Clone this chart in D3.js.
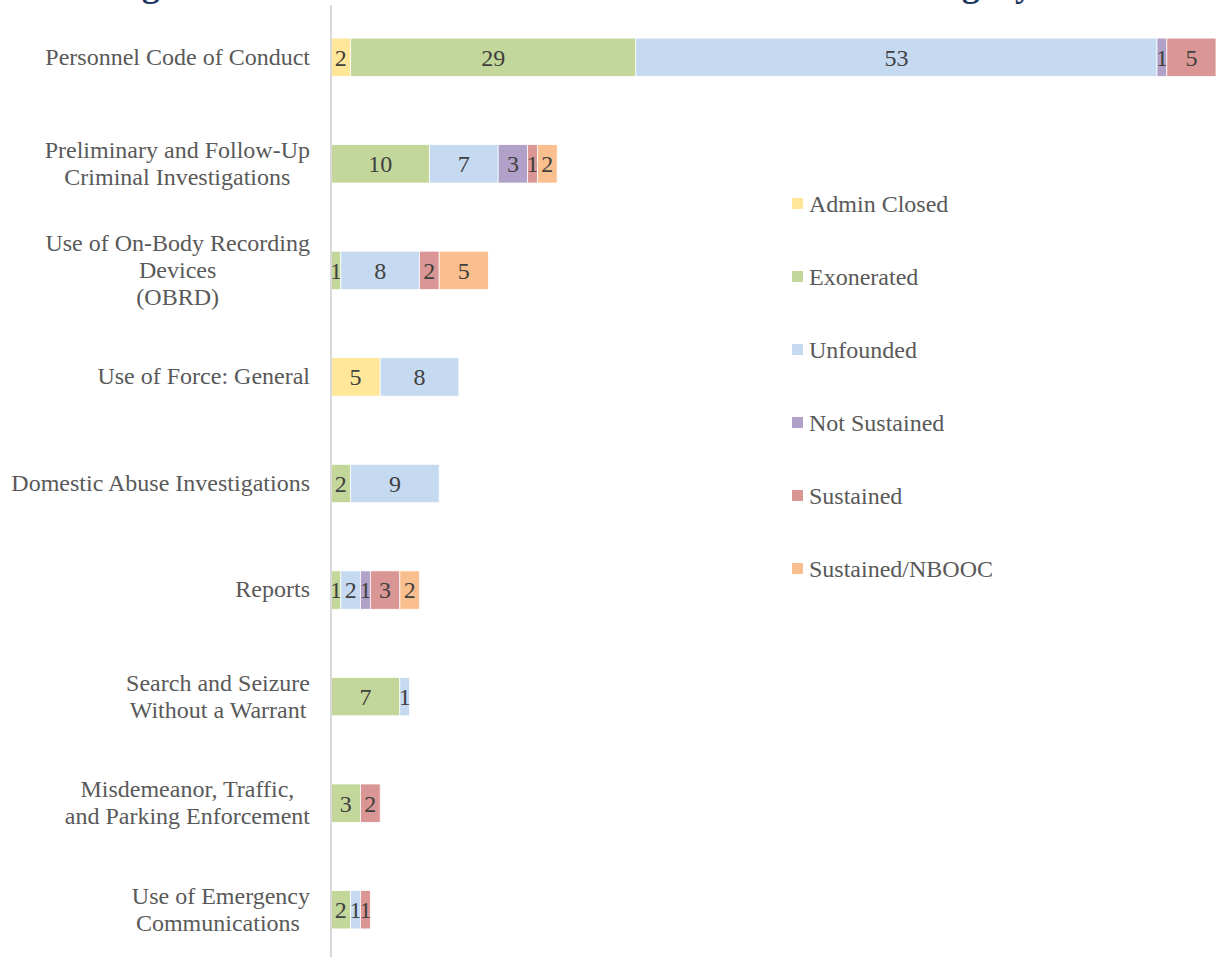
<!DOCTYPE html>
<html>
<head>
<meta charset="utf-8">
<script src="https://cdn.jsdelivr.net/npm/d3@7"></script>
<style>
  body { margin: 0; background: #fff; }
</style>
</head>
<body>
<svg id="chart" width="1222" height="957"></svg>
<script>
// categories (lines of each label)
const categories = [
  ['Personnel Code of Conduct'],
  ['Preliminary and Follow-Up', 'Criminal Investigations'],
  ['Use of On-Body Recording', 'Devices', '(OBRD)'],
  ['Use of Force: General'],
  ['Domestic Abuse Investigations'],
  ['Reports'],
  ['Search and Seizure', 'Without a Warrant'],
  ['Misdemeanor, Traffic,', 'and Parking Enforcement'],
  ['Use of Emergency', 'Communications\u00a0']
];
const seriesNames = ['Admin Closed', 'Exonerated', 'Unfounded', 'Not Sustained', 'Sustained', 'Sustained/NBOOC'];
const adminClosed   = [2, 0, 0, 5, 0, 0, 0, 0, 0];
const exonerated    = [29, 10, 1, 0, 2, 1, 7, 3, 2];
const unfounded     = [53, 7, 8, 8, 9, 2, 1, 0, 1];
const notSustained  = [1, 3, 0, 0, 0, 1, 0, 0, 0];
const sustained     = [5, 1, 2, 0, 0, 3, 0, 2, 1];
const sustainedNbooc = [0, 2, 5, 0, 0, 2, 0, 0, 0];
const colors = ['#FFE699', '#C4D79B', '#C5D9F1', '#B1A0C7', '#DA9694', '#FABF8F'];
const title = 'Allegations Reviewed and Their Outcomes in Each Category';

const seriesValues = [adminClosed, exonerated, unfounded, notSustained, sustained, sustainedNbooc];
const table = categories.map((c, i) => {
  const row = { key: i };
  seriesNames.forEach((s, j) => row[s] = seriesValues[j][i]);
  return row;
});

const FONT = 'Liberation Serif';
const svg = d3.select('#chart');
const margin = { top: 4, left: 331, right: 6 };
const width = 1222 - margin.left - margin.right;
const height = 959;

const x = d3.scaleLinear().domain([0, 90]).range([0, width]);
const y = d3.scaleBand().domain(categories.map((c, i) => i)).range([0, height]).paddingInner(0.64).paddingOuter(0.32);

// clipped title at the top (only descenders show)
svg.append('text')
  .attr('x', 78).attr('y', -4)
  .attr('textLength', 955).attr('lengthAdjust', 'spacing')
  .style('font-family', FONT)
  .style('font-size', '36px').style('font-weight', 'bold')
  .attr('fill', '#1F3864')
  .text(title);

const g = svg.append('g').attr('transform', 'translate(' + margin.left + ',' + margin.top + ')');

const stack = d3.stack().keys(seriesNames)(table);

const layer = g.selectAll('.layer')
  .data(stack)
  .enter().append('g')
  .attr('class', 'layer')
  .attr('fill', (d, i) => colors[i]);

layer.selectAll('rect')
  .data(d => d.filter(p => p[1] - p[0] > 0))
  .enter().append('rect')
  .attr('x', d => x(d[0]))
  .attr('y', d => y(d.data.key))
  .attr('width', d => x(d[1]) - x(d[0]))
  .attr('height', y.bandwidth())
  .attr('stroke', '#fff')
  .attr('stroke-width', 0.75);

layer.selectAll('text')
  .data(d => d.filter(p => p[1] - p[0] > 0))
  .enter().append('text')
  .attr('x', d => (x(d[0]) + x(d[1])) / 2)
  .attr('y', d => y(d.data.key) + y.bandwidth() / 2)
  .attr('dy', '0.35em')
  .attr('text-anchor', 'middle')
  .attr('fill', '#404040')
  .style('font-family', FONT)
  .style('font-size', '24px')
  .text(d => d[1] - d[0]);

// axis line
svg.append('line')
  .attr('x1', margin.left).attr('x2', margin.left)
  .attr('y1', 5).attr('y2', 957)
  .attr('stroke', '#D9D9D9').attr('stroke-width', 2);

// category labels: lines centred in a block right-aligned at the axis
const lineH = 27;
categories.forEach((lines, i) => {
  const cy = margin.top + y(i) + y.bandwidth() / 2 - 1;
  const lg = svg.append('g');
  const texts = lines.map((ln, k) => lg.append('text')
    .attr('y', cy + (k - (lines.length - 1) / 2) * lineH)
    .attr('dy', '0.35em')
    .attr('text-anchor', 'middle')
    .attr('fill', '#595959')
    .style('font-family', FONT)
    .style('font-size', '24px')
    .text(ln));
  const w = d3.max(texts, t => t.node().getComputedTextLength());
  texts.forEach(t => t.attr('x', 310 - w / 2));
});

// legend
const legend = svg.append('g').attr('transform', 'translate(792,204)');
seriesNames.forEach((s, i) => {
  const it = legend.append('g').attr('transform', 'translate(0,' + i * 73 + ')');
  it.append('rect').attr('x', 0).attr('y', -6).attr('width', 11).attr('height', 11).attr('fill', colors[i]);
  it.append('text').attr('x', 17).attr('dy', '0.35em')
    .attr('fill', '#595959').style('font-family', FONT)
    .style('font-size', '24px').text(s);
});
</script>
</body>
</html>
